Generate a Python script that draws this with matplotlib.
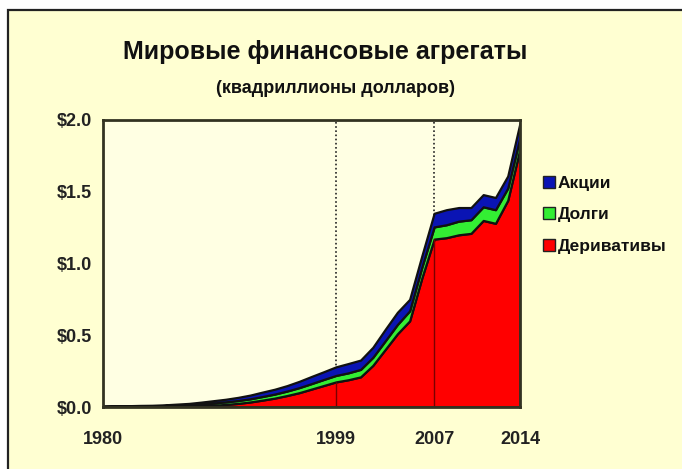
import matplotlib
matplotlib.use("Agg")
import matplotlib.pyplot as plt
from matplotlib.patches import Rectangle, Patch
import numpy as np

years = list(range(1980, 2015))
derivatives = [0, 0, 0, 0, 0, 0.001, 0.002, 0.004, 0.008, 0.012,
               0.018, 0.025, 0.035, 0.048, 0.062, 0.08, 0.10, 0.125, 0.15, 0.175,
               0.19, 0.21, 0.29, 0.40, 0.51, 0.60, 0.90, 1.17, 1.18, 1.20,
               1.21, 1.30, 1.28, 1.44, 1.80]
debt = [0.004, 0.005, 0.006, 0.007, 0.008, 0.009, 0.011, 0.012, 0.014, 0.016,
        0.018, 0.020, 0.022, 0.025, 0.028, 0.031, 0.035, 0.038, 0.042, 0.045,
        0.048, 0.052, 0.056, 0.06, 0.065, 0.07, 0.075, 0.085, 0.09, 0.095,
        0.095, 0.095, 0.095, 0.085, 0.08]
equity = [0.003, 0.003, 0.003, 0.004, 0.004, 0.005, 0.007, 0.009, 0.012, 0.016,
          0.018, 0.022, 0.026, 0.031, 0.034, 0.038, 0.044, 0.050, 0.054, 0.06,
          0.065, 0.065, 0.07, 0.08, 0.085, 0.08, 0.08, 0.095, 0.105, 0.095,
          0.085, 0.085, 0.085, 0.085, 0.10]
labels = ["Деривативы", "Долги", "Акции"]
colors = ["#FF0000", "#33EE33", "#0A14B4"]
marked_years = [1999, 2007]
xticks = [1980, 1999, 2007, 2014]
yticks = [0.0, 0.5, 1.0, 1.5, 2.0]

plt.rcParams['font.family'] = ['Liberation Sans', 'DejaVu Sans']
W, H = 682, 469
fig = plt.figure(figsize=(W / 100, H / 100), dpi=100)
fig.patch.set_facecolor("white")
# cream panel with dark frame on left/top
fig.patches.append(Rectangle((8 / W, -0.05), 1.1, 1 - 10 / H + 0.05,
                             transform=fig.transFigure, facecolor="#FFFFD2",
                             edgecolor="#222222", linewidth=1.6, zorder=-10))

ax = fig.add_axes([103 / W, 1 - 407 / H, (520 - 103) / W, (407 - 120) / H])
ax.set_facecolor("#FFFFE3")

x = np.array(years)
d = np.array(derivatives)
g = np.array(debt)
e = np.array(equity)
polys = ax.stackplot(x, d, g, e, colors=colors, edgecolor="#111111",
                     linewidth=1.6, zorder=2)

for yr in marked_years:
    ax.axvline(yr, color="#222222", linestyle=(0, (1, 1.5)), linewidth=1.2, zorder=1)
    i = years.index(yr)
    ax.vlines(yr, 0, d[i], color="#7A0000", linewidth=1.0, zorder=3)

ax.set_xlim(1980, 2014)
ax.set_ylim(0, 2.0)
ax.set_xticks(xticks)
ax.set_xticklabels([str(t) for t in xticks], fontsize=13, fontweight="bold", color="#222222")
ax.set_yticks(yticks)
ax.set_yticklabels([f"${t:.1f}" for t in yticks], fontsize=13, fontweight="bold", color="#222222")
ax.tick_params(axis="x", length=0, pad=17)
ax.tick_params(axis="y", length=0, pad=8)
for s in ax.spines.values():
    s.set_color("#333322")
    s.set_linewidth(2)
    s.set_zorder(4)

fig.text(325 / W, 1 - 52 / H, "Мировые финансовые агрегаты", ha="center", va="center",
         fontsize=18, fontweight="bold", color="#111111")
fig.text(335 / W, 1 - 88 / H, "(квадриллионы долларов)", ha="center", va="center",
         fontsize=13, fontweight="bold", color="#111111")

handles = [Patch(facecolor=colors[2], edgecolor="#222222", label=labels[2]),
           Patch(facecolor=colors[1], edgecolor="#222222", label=labels[1]),
           Patch(facecolor=colors[0], edgecolor="#222222", label=labels[0])]
leg = fig.legend(handles=handles, loc="upper left", bbox_to_anchor=(527 / W, 1 - 160 / H),
                 frameon=False, prop={"weight": "bold", "size": 12.5},
                 handlelength=0.7, handleheight=0.7, handletextpad=0.15, labelspacing=0.95)
for t in leg.get_texts():
    t.set_color("#111111")

fig.savefig("out.png", dpi=100, facecolor=fig.get_facecolor())
